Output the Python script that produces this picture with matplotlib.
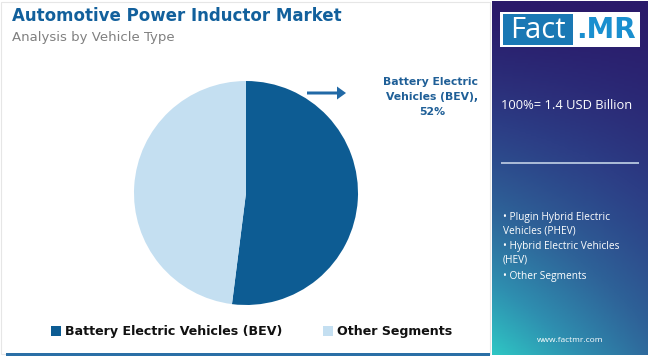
import numpy as np
import matplotlib
matplotlib.use("Agg")
import matplotlib.pyplot as plt
from matplotlib.patches import Rectangle, FancyArrow
from matplotlib.colors import LinearSegmentedColormap

title = "Automotive Power Inductor Market"
subtitle = "Analysis by Vehicle Type"
categories = ["Battery Electric Vehicles (BEV)", "Other Segments"]
shares = [52, 48]
colors = ["#0d5c93", "#c4dff1"]
total_label = "100%= 1.4 USD Billion"
other_items = ["• Plugin Hybrid Electric\nVehicles (PHEV)", "• Hybrid Electric Vehicles\n(HEV)", "• Other Segments"]

W, H = 650, 356
fig = plt.figure(figsize=(W / 100, H / 100), dpi=100)
fig.patch.set_facecolor("white")

def fx(x):
    return x / W

def fy(y):
    return 1 - y / H

# left panel border
fig.add_artist(Rectangle((fx(1), fy(354)), fx(489), 352 / H, transform=fig.transFigure,
                         facecolor="none", edgecolor="#e6e6e6", lw=0.8))
# bottom blue line
fig.add_artist(Rectangle((fx(6), fy(356)), fx(484), 3 / H, transform=fig.transFigure,
                         facecolor="#2a6fa6", edgecolor="none"))

# title
fig.text(fx(12), fy(16), title, fontsize=12, fontweight="bold", color="#12609c",
         va="center", ha="left", family="DejaVu Sans")
fig.text(fx(12), fy(37), subtitle, fontsize=9.5, color="#808080", va="center", ha="left")

# pie
cx, cy, r = 246, 193, 112
ax = fig.add_axes([fx(cx - r), fy(cy + r), 2 * r / W, 2 * r / H])
ax.pie(shares, colors=colors, startangle=90, counterclock=False,
       wedgeprops=dict(linewidth=0))
ax.set_aspect("equal")
ax.set_xlim(-1, 1)
ax.set_ylim(-1, 1)
ax.axis("off")

# annotation
fig.add_artist(FancyArrow(fx(307), fy(93), fx(30), 0, width=3 / H, head_width=13 / H,
                          head_length=fx(9), length_includes_head=False,
                          transform=fig.transFigure, color="#2169a6", lw=0))
fig.text(fx(432), fy(97), f"{categories[0].replace('Vehicles', chr(10) + 'Vehicles')},\n{shares[0]}%",
         fontsize=7.8, fontweight="bold", color="#1f5f97", ha="center", va="center",
         linespacing=1.6)

# legend
lx = [51, 323]
for x0, cat, col in zip(lx, categories, colors):
    fig.add_artist(Rectangle((fx(x0), fy(336)), fx(10), 10 / H, transform=fig.transFigure,
                             facecolor=col, edgecolor="none"))
    fig.text(fx(x0 + 14), fy(331), cat, fontsize=9.1, fontweight="bold", color="#111111",
             va="center", ha="left")

# right gradient panel
px0, px1, py0, py1 = 492, 648, 1, 355
gax = fig.add_axes([fx(px0), fy(py1), (px1 - px0) / W, (py1 - py0) / H])
gx = np.linspace(0, 1, 60)
gy = np.linspace(0, 1, 200)
X, Y = np.meshgrid(gx, gy)
T = np.clip(Y ** 1.3 * (0.55 + 0.45 * (1 - X)), 0, 1)
cmap = LinearSegmentedColormap.from_list("g", ["#2a1a6a", "#2c3d85", "#2e6298", "#2f8fb0", "#2ec6c4"])
gax.imshow(T, cmap=cmap, aspect="auto", extent=[0, 1, 1, 0], vmin=0, vmax=1)
gax.set_xlim(0, 1)
gax.set_ylim(1, 0)
gax.axis("off")

# logo
fig.add_artist(Rectangle((fx(500), fy(47)), fx(140), 35 / H, transform=fig.transFigure,
                         facecolor="white", edgecolor="none"))
fig.add_artist(Rectangle((fx(503), fy(45)), fx(70), 31 / H, transform=fig.transFigure,
                         facecolor="#1a78b4", edgecolor="none"))
fig.text(fx(538), fy(30), "Fact", fontsize=21, color="white", ha="center", va="center",
         family="Open Sans")
fig.text(fx(606), fy(30), ".MR", fontsize=20, fontweight="bold", color="#1a8fcf",
         ha="center", va="center")

fig.text(fx(501), fy(106), total_label, fontsize=9.3, color="white", ha="left", va="center",
         family="Open Sans")
fig.add_artist(Rectangle((fx(501), fy(164)), fx(138), 2 / H, transform=fig.transFigure,
                         facecolor="#a9b9d6", edgecolor="none"))
ys = [224, 253, 276]
for yy, item in zip(ys, other_items):
    fig.text(fx(503), fy(yy), item, fontsize=7.3, color="white", ha="left", va="center",
             linespacing=1.3, family="Open Sans")
fig.text(fx(570), fy(341), "www.factmr.com", fontsize=6, color="white", ha="center", va="center",
         family="Open Sans")

fig.savefig("out.png", dpi=100, facecolor="white")
